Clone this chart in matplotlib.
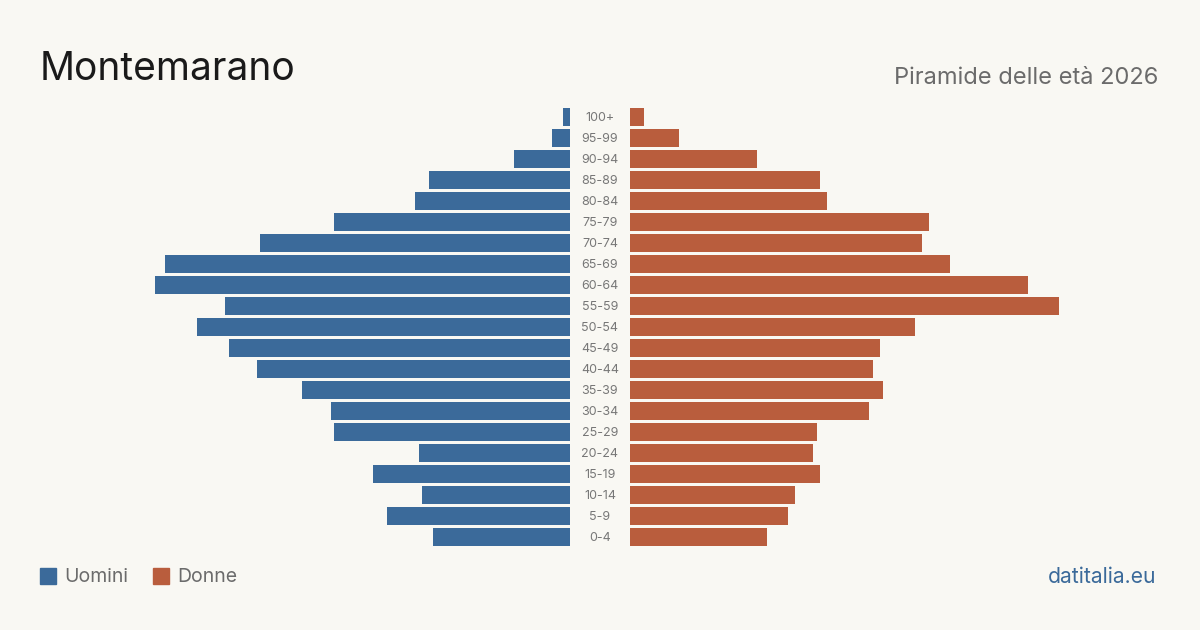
import matplotlib
matplotlib.use("Agg")
import matplotlib.pyplot as plt
from matplotlib.patches import Rectangle

plt.rcParams['font.family'] = ['Inter', 'DejaVu Sans']

age_groups = ["0-4", "5-9", "10-14", "15-19", "20-24", "25-29", "30-34", "35-39",
              "40-44", "45-49", "50-54", "55-59", "60-64", "65-69", "70-74", "75-79",
              "80-84", "85-89", "90-94", "95-99", "100+"]
men = [39, 52, 42, 56, 43, 67, 68, 76, 89, 97, 106, 98, 118, 115, 88, 67, 44, 40, 16, 5, 2]
women = [39, 45, 47, 54, 52, 53, 68, 72, 69, 71, 81, 122, 113, 91, 83, 85, 56, 54, 36, 14, 4]

title = "Montemarano"
subtitle = "Piramide delle età 2026"
source = "datitalia.eu"
label_men = "Uomini"
label_women = "Donne"

BG = "#f9f8f3"
BLUE = "#3b6a9a"
ORANGE = "#b95d3d"

W, H = 1200, 630
fig = plt.figure(figsize=(W / 100, H / 100), dpi=100, facecolor=BG)

px_per_unit = 3.52
top, bottom = 106.5, 547.5
left_px0, center_l, center_r, right_px1 = 40, 570, 630, 1160
lim = (center_l - left_px0) / px_per_unit

def fax(x0, x1):
    return fig.add_axes([x0 / W, 1 - bottom / H, (x1 - x0) / W, (bottom - top) / H])

axl = fax(left_px0, center_l)
axr = fax(center_r, right_px1)
n = len(age_groups)
ys = list(range(n))
for ax in (axl, axr):
    ax.set_facecolor("none")
    ax.set_ylim(-0.5, n - 0.5)
    ax.axis("off")
axl.set_xlim(lim, 0)
axr.set_xlim(0, lim)
axl.barh(ys, men, height=0.81, color=BLUE)
axr.barh(ys, women, height=0.81, color=ORANGE)

axc = fax(center_l, center_r)
axc.set_facecolor("none")
axc.set_ylim(-0.5, n - 0.5)
axc.set_xlim(0, 1)
axc.axis("off")
for y, lab in zip(ys, age_groups):
    axc.text(0.5, y - 0.04, lab, ha="center", va="center", fontsize=9, color="#777777")

fig.text(40 / W, 1 - 80 / H, title, fontsize=28, color="#1a1a1a", ha="left", va="baseline")
fig.text(1158 / W, 1 - 84 / H, subtitle, fontsize=17, color="#6b6b6b", ha="right", va="baseline")
fig.text(1156 / W, 1 - 583 / H, source, fontsize=15.2, color=BLUE, ha="right", va="baseline")

fig.patches.append(Rectangle((40 / W, 1 - 584 / H), 16 / W, 16 / H, transform=fig.transFigure,
                             color=BLUE, figure=fig))
fig.text(64 / W, 1 - 582 / H, label_men, fontsize=14, color="#6b6b6b", ha="left", va="baseline")
fig.patches.append(Rectangle((153 / W, 1 - 584 / H), 16 / W, 16 / H, transform=fig.transFigure,
                             color=ORANGE, figure=fig))
fig.text(177 / W, 1 - 582 / H, label_women, fontsize=14, color="#6b6b6b", ha="left", va="baseline")

fig.savefig("out.png", dpi=100, facecolor=BG)
